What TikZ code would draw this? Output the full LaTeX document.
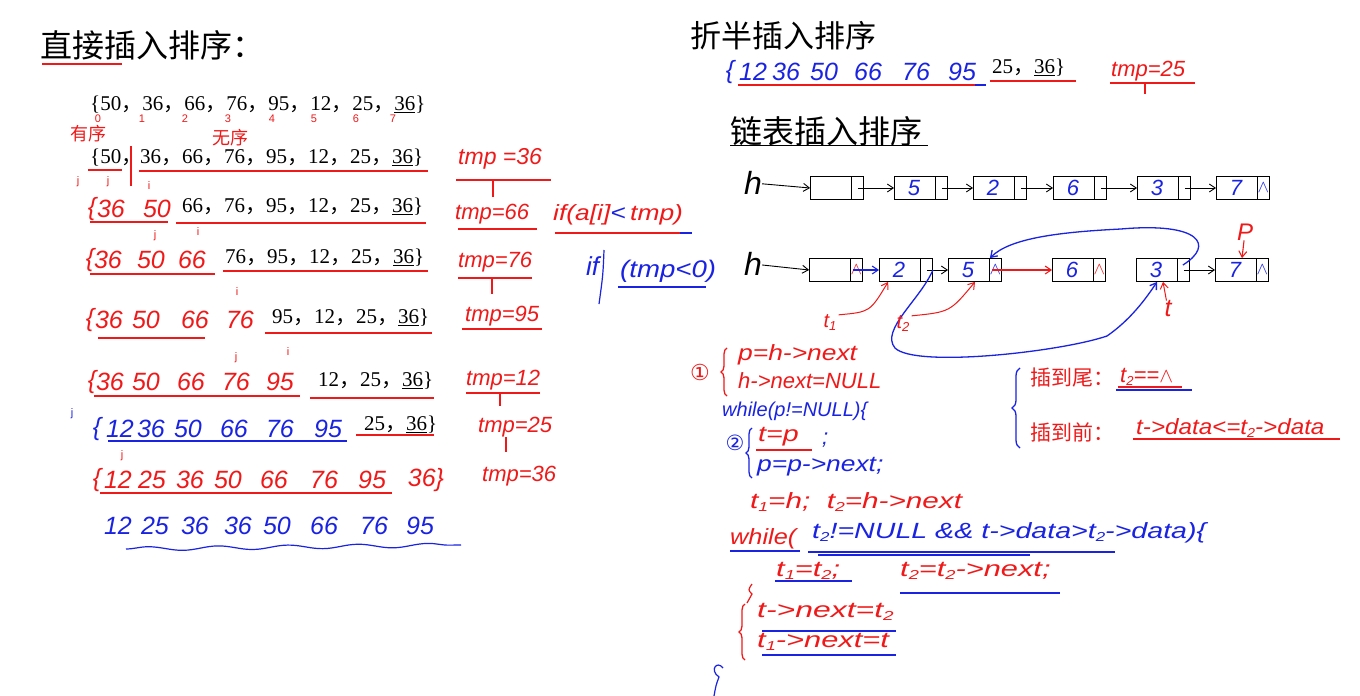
\documentclass[tikz,border=0pt]{standalone}
\usepackage{fontspec}
\setmainfont{Liberation Serif}
\newfontfamily\cjk{Noto Sans CJK SC}
\newfontfamily\hw{Liberation Sans}
\newfontfamily\djv{DejaVu Sans}
\usetikzlibrary{arrows.meta,decorations.pathmorphing,decorations.pathreplacing}
\definecolor{hred}{RGB}{240,25,25}
\definecolor{hblue}{RGB}{25,35,225}
\newcommand\pc{{\cjk ，}}
\newcommand\sbs[1]{\raisebox{-3pt}{\fontsize{13}{13}\selectfont #1}}
\newcommand\sx[2]{\scalebox{#1}[1]{#2}}
\tikzset{
 prt/.style={anchor=west,inner sep=0pt,font=\fontsize{21}{22}\selectfont},
 rt/.style={anchor=west,inner sep=0pt,text=hred,font=\hw\itshape\fontsize{22}{23}\selectfont},
 bt/.style={anchor=west,inner sep=0pt,text=hblue,font=\hw\itshape\fontsize{22}{23}\selectfont},
 rn/.style={anchor=center,inner sep=0pt,text=hred,font=\hw\itshape\fontsize{25}{26}\selectfont},
 bn/.style={anchor=center,inner sep=0pt,text=hblue,font=\hw\itshape\fontsize{25}{26}\selectfont},
 ct/.style={anchor=west,inner sep=0pt,font=\cjk\fontsize{31}{32}\selectfont},
 sm/.style={inner sep=0pt,text=hred,font=\hw\fontsize{11}{12}\selectfont},
 rl/.style={draw=hred,line width=1.2pt},
 bll/.style={draw=hblue,line width=1.2pt},
 kl/.style={draw=black,line width=0.9pt},
 cell/.style={draw=black,line width=0.8pt,minimum width=53pt,minimum height=23pt,inner sep=0pt},
 arr/.style={-{Straight Barb[length=6pt,width=8pt]},line width=0.9pt},
 lbrace/.style={decorate,decoration={brace,amplitude=6pt},line width=1.3pt},
}
\begin{document}
\begin{tikzpicture}[x=1pt,y=-1pt]
\useasboundingbox (0,0) rectangle (1360,696);
\fill[white] (0,0) rectangle (1360,696);

%% ---------------- left: direct insertion sort
\node[ct,font=\cjk\fontsize{32}{34}\selectfont] (ttl1) at (40,45) {直接插入排序：};
\draw[rl] (42,64) -- (122,64);

% row 0
\node[prt] (r0) at (90,105) {\{50\pc 36\pc 66\pc 76\pc 95\pc 12\pc 25\pc \underline{36}\}};
\foreach \v/\x in {0/98,1/142,2/185,3/228,4/272,5/314,6/356,7/393}
  \node[sm] (ix\v) at (\x,119) {\v};
\node[ct,text=hred,font=\cjk\fontsize{18}{18}\selectfont] (yx) at (70,134) {有序};
\node[ct,text=hred,font=\cjk\fontsize{18}{18}\selectfont] (wx) at (212,138) {无序};

% row 1
\node[prt] (r1a) at (90,158) {\{50\pc};
\node[prt] (r1b) at (140,158) {36\pc 66\pc 76\pc 95\pc 12\pc 25\pc \underline{36}\}};
\draw[rl] (88,170) -- (122,170);
\draw[rl] (131,146) -- (131,186);
\draw[rl] (139,171) -- (428,171);
\node[rt,font=\hw\itshape\fontsize{23}{24}\selectfont] (tmp1) at (458,159) {tmp =36};
\draw[rl] (456,180) -- (551,180);
\draw[rl] (493,180) -- (493,197);
\node[sm] (j1a) at (78,182) {j};
\node[sm] (j1b) at (108,182) {j};
\node[sm] (i1) at (149,186) {i};

% row 2
\node[rn] (r2o) at (92,209) {\{};
\foreach \v/\x in {36/111,50/157} \node[rn] (r2-\x) at (\x,209) {\v};
\node[prt] (r2b) at (182,207) {66\pc 76\pc 95\pc 12\pc 25\pc \underline{36}\}};
\draw[rl] (90,222) -- (168,222);
\draw[rl] (176,223) -- (426,223);
\node[rt] (tmp2) at (455,214) {tmp=66};
\draw[rl] (458,229) -- (537,229);
\node[rt] (cnd1) at (553,215) {\sx{1.2}{if(a[i]\textcolor{hblue}{<}\,tmp)}};
\draw[rl] (555,233) -- (682,233);
\draw[bll] (680,233) -- (692,233);

% row 3
\node[rn] (r3o) at (90,260) {\{};
\foreach \v/\x in {36/108,50/151,66/192} \node[rn] (r3-\x) at (\x,260) {\v};
\node[prt] (r3b) at (225,258) {76\pc 95\pc 12\pc 25\pc \underline{36}\}};
\draw[rl] (90,274) -- (215,274);
\draw[rl] (223,271) -- (428,271);
\node[rt] (tmp3) at (458,262) {tmp=76};
\draw[rl] (458,278) -- (532,278);
\draw[rl] (492,278) -- (492,294);
\node[sm] (j3) at (155,236) {j};
\node[sm] (i3) at (198,232) {i};
\node[bt,font=\hw\itshape\fontsize{26}{26}\selectfont] (if2) at (586,266) {if};
\draw[bll] (604,250) .. controls (603,275) .. (599,304);
\node[bt,font=\hw\itshape\fontsize{24}{24}\selectfont] (cnd2) at (620,271) {\sx{1.15}{(tmp<0)}};
\draw[bll] (618,287) -- (706,287);

% row 4
\node[rn] (r4o) at (90,320) {\{};
\foreach \v/\x in {36/109,50/146,66/195,76/240} \node[rn] (r4-\x) at (\x,320) {\v};
\node[prt] (r4b) at (272,318) {95\pc 12\pc 25\pc \underline{36}\}};
\draw[rl] (98,338) -- (205,338);
\draw[rl] (265,333) -- (432,333);
\node[rt] (tmp4) at (465,316) {tmp=95};
\draw[rl] (462,329) -- (542,329);
\node[sm] (i4) at (237,292) {i};

% row 5
\node[rn] (r5o) at (92,382) {\{};
\foreach \v/\x in {36/110,50/146,66/191,76/236,95/280} \node[rn] (r5-\x) at (\x,382) {\v};
\node[prt] (r5b) at (318,381) {12\pc 25\pc \underline{36}\}};
\draw[rl] (94,396) -- (300,396);
\draw[rl] (310,398) -- (434,398);
\node[rt] (tmp5) at (466,380) {tmp=12};
\draw[rl] (466,393) -- (540,393);
\draw[rl] (500,393) -- (500,406);
\node[sm] (j5) at (236,358) {j};
\node[sm] (i5) at (288,352) {i};

% row 6
\node[bn] (r6o) at (97,429) {\{};
\foreach \v/\x in {12/120,36/151,50/188,66/234,76/280,95/328} \node[bn] (r6-\x) at (\x,429) {\v};
\node[prt] (r6b) at (364,425) {25\pc \underline{36}\}};
\draw[bll] (108,441) -- (347,441);
\draw[rl] (356,435) -- (434,435);
\node[rt] (tmp6) at (478,427) {tmp=25};
\draw[rl] (506,437) -- (506,452);
\node[sm,text=hblue] (j6) at (72,414) {j};

% row 7
\node[rn] (r7o) at (97,480) {\{};
\foreach \v/\x in {12/118,25/152,36/190,50/228,66/274,76/324,95/372} \node[rn] (r7-\x) at (\x,480) {\v};
\node[rn] (r7-end) at (426,480) {36\}};
\draw[rl] (100,493) -- (392,493);
\node[rt] (tmp7) at (482,476) {tmp=36};
\node[sm] (j7) at (122,456) {j};

% row 8
\foreach \v/\x/\k in {12/118/a,25/155/b,36/195/c,36/238/d,50/277/e,66/324/f,76/374/g,95/420/h} \node[bn] (r8-\k) at (\x,526) {\v};
\draw[bll,decorate,decoration={snake,amplitude=2pt,segment length=70pt}] (126,549) -- (461,545);

%% ---------------- right top: binary insertion sort
\node[ct] (ttl2) at (690,36) {折半插入排序};
\node[bn] (s1o) at (730,72) {\{};
\foreach \v/\x in {12/753,36/786,50/824,66/868,76/916,95/962} \node[bn] (s1-\x) at (\x,72) {\v};
\draw[rl,line width=1.8pt] (738,85) -- (975,85);
\draw[bll] (975,85) -- (986,85);
\node[prt] (s1b) at (992,68) {25\pc \underline{36}\}};
\draw[rl] (990,81) -- (1076,81);
\node[rt] (tmp8) at (1111,71) {tmp=25};
\draw[rl] (1110,83) -- (1195,83);
\draw[rl] (1145,83) -- (1145,94);

%% ---------------- linked list insertion sort
\node[ct,font=\cjk\fontsize{32}{34}\selectfont] (ttl3) at (730,131) {链表插入排序};
\draw[kl] (730,145) -- (928,145);

% list 1
\node[inner sep=0pt,font=\hw\itshape\fontsize{32}{32}\selectfont] (h1) at (753,183) {h};
\foreach \n/\x in {1/837,2/921,3/1000,4/1080,5/1164,6/1243}{
  \node[cell] (a\n) at (\x,188) {};
  \draw[black,line width=0.8pt] ([xshift=-13pt]a\n.north east) -- ([xshift=-13pt]a\n.south east);
}
\foreach \n/\v in {2/5,3/2,4/6,5/3,6/7}
  \node[bn,font=\hw\itshape\fontsize{22}{22}\selectfont] (d\n) at ([xshift=-7pt]a\n.center) {\v};
\node[bn,font=\fontsize{18}{18}\selectfont] (na6) at ([xshift=-6.5pt]a6.east) {$\wedge$};
\draw[arr] (h1) -- (a1.west);
\foreach \n/\m in {1/2,2/3,3/4,4/5,5/6}
  \draw[arr] ([xshift=-6pt]a\n.east) -- (a\m.west);

% list 2
\node[inner sep=0pt,font=\hw\itshape\fontsize{32}{32}\selectfont] (h2) at (753,264) {h};
\foreach \n/\x in {1/836,2/906,3/975,4/1079,5/1163,6/1242}{
  \node[cell] (b\n) at (\x,270) {};
  \draw[black,line width=0.8pt] ([xshift=-13pt]b\n.north east) -- ([xshift=-13pt]b\n.south east);
}
\foreach \n/\v in {2/2,3/5,4/6,5/3,6/7}
  \node[bn,font=\hw\itshape\fontsize{22}{22}\selectfont] (e\n) at ([xshift=-7pt]b\n.center) {\v};
\node[rn,font=\fontsize{18}{18}\selectfont] (nb1) at ([xshift=-6.5pt]b1.east) {$\wedge$};
\node[bn,font=\fontsize{18}{18}\selectfont] (nb3) at ([xshift=-6.5pt]b3.east) {$\wedge$};
\node[rn,font=\fontsize{18}{18}\selectfont] (nb4) at ([xshift=-6.5pt]b4.east) {$\wedge$};
\node[bn,font=\fontsize{18}{18}\selectfont] (nb6) at ([xshift=-6.5pt]b6.east) {$\wedge$};
\draw[arr] (h2) -- (b1.west);
\draw[arr,hblue,line width=1.1pt] ([xshift=-10pt]b1.east) -- (b2.west);
\draw[arr] ([xshift=-6pt]b2.east) -- (b3.west);
\draw[arr,hred,line width=1.1pt] ([xshift=-10pt]b3.east) -- (b4.west);
\draw[arr] ([xshift=-6pt]b5.east) -- (b6.west);
% blue re-link curves
\draw[bll,arr,line width=1.3pt] ([xshift=-7pt,yshift=5pt]b5.east) .. controls (1215,245) and (1200,222) .. (1121,229) .. controls (1060,232) and (1010,238) .. ([xshift=-12pt]b3.north east);
\draw[bll,arr,line width=1.3pt] (b2.east) .. controls (920,300) and (880,330) .. (895,348) .. controls (915,368) and (1060,352) .. (1107,336) .. controls (1130,320) and (1145,300) .. ([xshift=-6pt]b5.south);
% red pointer labels
\node[rn,font=\hw\itshape\fontsize{20}{20}\selectfont] (lt1) at (830,323) {t\sbs{1}};
\draw[rl,arr,line width=1pt] ([xshift=2pt]lt1.north east) .. controls (870,312) .. ([xshift=9pt]b2.south west);
\node[rn,font=\hw\itshape\fontsize{20}{20}\selectfont] (lt2) at (903,324) {t\sbs{2}};
\draw[rl,arr,line width=1pt] ([xshift=2pt]lt2.north east) .. controls (950,312) .. (b3.south);
\node[rn,font=\hw\itshape\fontsize{24}{24}\selectfont] (lp) at (1245,232) {P};
\draw[rl,arr,line width=1.1pt] (lp) -- (b6.north);
\node[rn] (lt) at (1168,309) {t};
\draw[rl,arr,line width=1pt] (lt) -- (b5.south);

%% ---------------- code
\node[inner sep=0pt,text=hred,font=\djv\fontsize{22}{22}\selectfont] (c1) at (700,372) {①};
\draw[rl,lbrace] (727,396) -- (727,348);
\node[rt] (cd1) at (738,355) {\sx{1.2}{p=h->next}};
\node[rt] (cd2) at (738,381) {h->next=NULL};
\node[bt,font=\hw\itshape\fontsize{20}{21}\selectfont] (cd3) at (722,411) {while(p!=NULL)\{};
\node[inner sep=0pt,text=hblue,font=\djv\fontsize{21}{21}\selectfont] (c2) at (735,443) {②};
\draw[bll,lbrace] (752,478) -- (752,428);
\node[rt] (cd4) at (758,437) {\sx{1.3}{t=p}};
\draw[rl] (756,450) -- (812,450);
\node[bt] (cd4b) at (822,440) {;};
\node[bt] (cd5) at (757,467) {\sx{1.2}{p=p->next;}};
\node[rt] (cd6) at (750,502) {\sx{1.35}{t\sbs{1}=h;\ \ t\sbs{2}=h->next}};
\node[rt] (cd7) at (730,539) {\sx{1.15}{while(}};
\draw[bll] (730,551) -- (800,551);
\node[bt] (cd8) at (812,533) {\sx{1.3}{t\sbs{2}!=NULL \&\& t->data>t\sbs{2}->data)\{}};
\draw[bll] (808,552) -- (1115,552);
\draw[bll] (818,555) -- (1030,555);
\node[rt] (cd9) at (776,571) {\sx{1.4}{t\sbs{1}=t\sbs{2};}};
\node[rt] (cd9b) at (900,571) {\sx{1.4}{t\sbs{2}=t\sbs{2}->next;}};
\draw[bll] (775,581) -- (852,581);
\draw[bll] (900,593) -- (1060,593);
\draw[rl] (752,584) .. controls (748,590) .. (752,594) -- (747,603);
\draw[rl,lbrace] (745,660) -- (745,604);
\node[rt] (cd10) at (757,612) {\sx{1.45}{t->next=t\sbs{2}}};
\draw[bll] (762,631) -- (896,631);
\node[rt] (cd11) at (757,642) {\sx{1.4}{t\sbs{1}->next=t}};
\draw[bll] (762,655) -- (896,655);
\draw[bll] (723,668) .. controls (717,660) and (709,670) .. (719,677) .. controls (716,685) .. (714,696);

%% ---------------- cases
\draw[bll,lbrace,decoration={brace,amplitude=8pt}] (1020,448) -- (1020,368);
\node[ct,text=hred,font=\cjk\fontsize{21}{22}\selectfont] (cs1) at (1030,378) {插到尾：};
\node[rt] (cs1b) at (1120,377) {t\sbs{2}==$\wedge$};
\draw[bll] (1116,390) -- (1192,390);
\draw[rl] (1118,387) -- (1182,387);
\node[ct,text=hred,font=\cjk\fontsize{21}{22}\selectfont] (cs2) at (1030,432) {插到前：};
\node[rt] (cs2b) at (1136,428) {\sx{1.1}{t->data<=t\sbs{2}->data}};
\draw[rl] (1133,439) -- (1340,439);
\end{tikzpicture}
\end{document}
